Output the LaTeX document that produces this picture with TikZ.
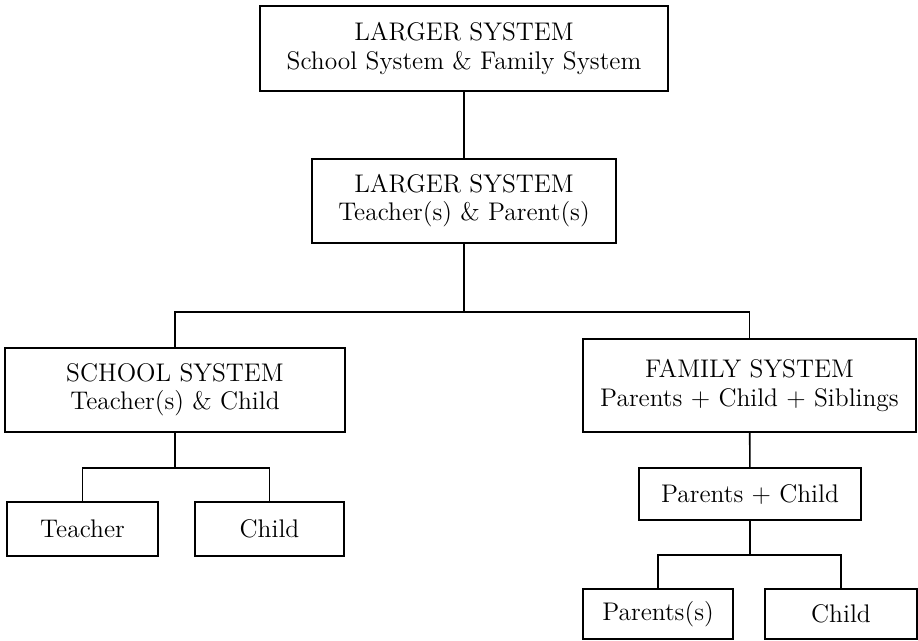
\documentclass[tikz,border=0pt]{standalone}
\usepackage{tikz}

\begin{document}
\begin{tikzpicture}[x=0.02cm, y=-0.02cm,
    sysbox/.style={rectangle, draw, line width=0.9pt, inner sep=0pt, align=center,
      font=\fontsize{14.5}{16}\selectfont}]
\useasboundingbox (0,0) rectangle (918,640);

\node (top) at (464,48.5) [sysbox, minimum width=8.16cm, minimum height=1.70cm] {LARGER SYSTEM\\School System \& Family System};
\node (mid) at (464,201) [sysbox, minimum width=6.08cm, minimum height=1.68cm] {LARGER SYSTEM\\Teacher(s) \& Parent(s)};
\coordinate (bus) at (464,312);

\node (school) at (175,390) [sysbox, minimum width=6.80cm, minimum height=1.68cm] {SCHOOL SYSTEM\\Teacher(s) \& Child};
	\coordinate (sbus) at (175,468);
	\node (teacher) at (82.5,529) [sysbox, minimum width=3.02cm, minimum height=1.08cm] {Teacher};
	\node (schild) at (269.5,529) [sysbox, minimum width=2.98cm, minimum height=1.08cm] {Child};

\node (family) at (749.5,385.5) [sysbox, minimum width=6.66cm, minimum height=1.86cm] {FAMILY SYSTEM\\Parents + Child + Siblings};
	\node (pc) at (750,494) [sysbox, minimum width=4.44cm, minimum height=1.04cm] {Parents + Child};
	\coordinate (fbus) at (750,555);
	\node (parents) at (658,614) [sysbox, minimum width=3.00cm, minimum height=1.00cm] {Parents(s)};
	\node (fchild) at (841,614) [sysbox, minimum width=3.04cm, minimum height=1.00cm] {Child};

\draw[line width=0.9pt] (top) -- (mid);
\draw[line width=0.9pt] (mid) -- (bus) -| (school);
\draw[line width=0.9pt] (bus) -| (family);
\draw[line width=0.9pt] (school) -- (sbus) -| (teacher);
\draw[line width=0.9pt] (sbus) -| (schild);
\draw[line width=0.9pt] (family) -- (pc);
\draw[line width=0.9pt] (pc) -- (fbus) -| (parents);
\draw[line width=0.9pt] (fbus) -| (fchild);
\end{tikzpicture}
\end{document}
